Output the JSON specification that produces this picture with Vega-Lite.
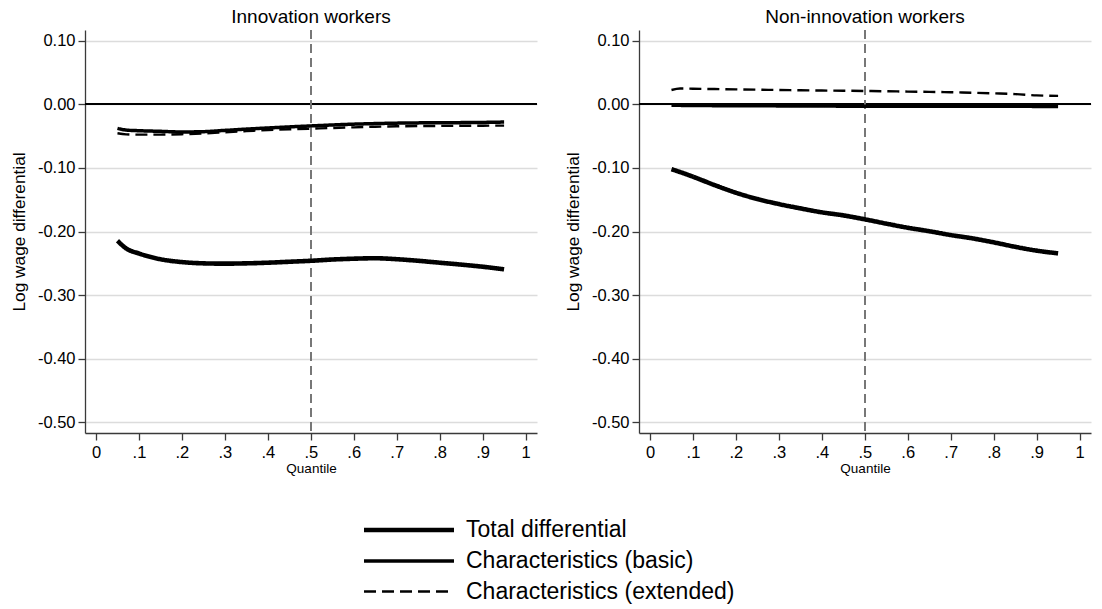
{
  "$schema": "https://vega.github.io/schema/vega-lite/v6.json",
  "background": "white",
  "padding": {"left": 10, "top": 8, "right": 0, "bottom": 0},
  "config": {
    "font": "Liberation Sans",
    "view": {"stroke": null},
    "axis": {"labelFont": "Liberation Sans", "titleFont": "Liberation Sans", "labelColor": "black", "titleColor": "black", "titleFontWeight": "normal", "domainColor": "#3a3a3a", "tickColor": "#3a3a3a", "domainWidth": 1.3, "tickWidth": 1.3},
    "title": {"font": "Liberation Sans", "fontWeight": "normal", "fontSize": 19, "color": "black", "offset": 2},
    "legend": {"labelFont": "Liberation Sans"}
  },
  "datasets": {
    "curves": [
      {"panel": "Innovation workers", "series": "Total differential", "q": 0.05, "v": -0.2145},
      {"panel": "Innovation workers", "series": "Total differential", "q": 0.07, "v": -0.2265},
      {"panel": "Innovation workers", "series": "Total differential", "q": 0.10, "v": -0.2345},
      {"panel": "Innovation workers", "series": "Total differential", "q": 0.15, "v": -0.2435},
      {"panel": "Innovation workers", "series": "Total differential", "q": 0.20, "v": -0.2480},
      {"panel": "Innovation workers", "series": "Total differential", "q": 0.25, "v": -0.2500},
      {"panel": "Innovation workers", "series": "Total differential", "q": 0.30, "v": -0.2505},
      {"panel": "Innovation workers", "series": "Total differential", "q": 0.35, "v": -0.2500},
      {"panel": "Innovation workers", "series": "Total differential", "q": 0.40, "v": -0.2490},
      {"panel": "Innovation workers", "series": "Total differential", "q": 0.45, "v": -0.2475},
      {"panel": "Innovation workers", "series": "Total differential", "q": 0.50, "v": -0.2460},
      {"panel": "Innovation workers", "series": "Total differential", "q": 0.55, "v": -0.2440},
      {"panel": "Innovation workers", "series": "Total differential", "q": 0.60, "v": -0.2427},
      {"panel": "Innovation workers", "series": "Total differential", "q": 0.65, "v": -0.2420},
      {"panel": "Innovation workers", "series": "Total differential", "q": 0.70, "v": -0.2435},
      {"panel": "Innovation workers", "series": "Total differential", "q": 0.75, "v": -0.2460},
      {"panel": "Innovation workers", "series": "Total differential", "q": 0.80, "v": -0.2490},
      {"panel": "Innovation workers", "series": "Total differential", "q": 0.85, "v": -0.2520},
      {"panel": "Innovation workers", "series": "Total differential", "q": 0.90, "v": -0.2553},
      {"panel": "Innovation workers", "series": "Total differential", "q": 0.95, "v": -0.2594},
      {"panel": "Innovation workers", "series": "Characteristics (basic)", "q": 0.05, "v": -0.0378},
      {"panel": "Innovation workers", "series": "Characteristics (basic)", "q": 0.07, "v": -0.0405},
      {"panel": "Innovation workers", "series": "Characteristics (basic)", "q": 0.10, "v": -0.0415},
      {"panel": "Innovation workers", "series": "Characteristics (basic)", "q": 0.15, "v": -0.0425},
      {"panel": "Innovation workers", "series": "Characteristics (basic)", "q": 0.20, "v": -0.0435},
      {"panel": "Innovation workers", "series": "Characteristics (basic)", "q": 0.25, "v": -0.0430},
      {"panel": "Innovation workers", "series": "Characteristics (basic)", "q": 0.30, "v": -0.0410},
      {"panel": "Innovation workers", "series": "Characteristics (basic)", "q": 0.35, "v": -0.0390},
      {"panel": "Innovation workers", "series": "Characteristics (basic)", "q": 0.40, "v": -0.0372},
      {"panel": "Innovation workers", "series": "Characteristics (basic)", "q": 0.45, "v": -0.0355},
      {"panel": "Innovation workers", "series": "Characteristics (basic)", "q": 0.50, "v": -0.0340},
      {"panel": "Innovation workers", "series": "Characteristics (basic)", "q": 0.55, "v": -0.0325},
      {"panel": "Innovation workers", "series": "Characteristics (basic)", "q": 0.60, "v": -0.0312},
      {"panel": "Innovation workers", "series": "Characteristics (basic)", "q": 0.65, "v": -0.0303},
      {"panel": "Innovation workers", "series": "Characteristics (basic)", "q": 0.70, "v": -0.0296},
      {"panel": "Innovation workers", "series": "Characteristics (basic)", "q": 0.75, "v": -0.0292},
      {"panel": "Innovation workers", "series": "Characteristics (basic)", "q": 0.80, "v": -0.0290},
      {"panel": "Innovation workers", "series": "Characteristics (basic)", "q": 0.85, "v": -0.0288},
      {"panel": "Innovation workers", "series": "Characteristics (basic)", "q": 0.90, "v": -0.0285},
      {"panel": "Innovation workers", "series": "Characteristics (basic)", "q": 0.95, "v": -0.0279},
      {"panel": "Innovation workers", "series": "Characteristics (extended)", "q": 0.05, "v": -0.0456},
      {"panel": "Innovation workers", "series": "Characteristics (extended)", "q": 0.07, "v": -0.0472},
      {"panel": "Innovation workers", "series": "Characteristics (extended)", "q": 0.10, "v": -0.0477},
      {"panel": "Innovation workers", "series": "Characteristics (extended)", "q": 0.15, "v": -0.0476},
      {"panel": "Innovation workers", "series": "Characteristics (extended)", "q": 0.20, "v": -0.0470},
      {"panel": "Innovation workers", "series": "Characteristics (extended)", "q": 0.25, "v": -0.0458},
      {"panel": "Innovation workers", "series": "Characteristics (extended)", "q": 0.30, "v": -0.0440},
      {"panel": "Innovation workers", "series": "Characteristics (extended)", "q": 0.35, "v": -0.0422},
      {"panel": "Innovation workers", "series": "Characteristics (extended)", "q": 0.40, "v": -0.0405},
      {"panel": "Innovation workers", "series": "Characteristics (extended)", "q": 0.45, "v": -0.0393},
      {"panel": "Innovation workers", "series": "Characteristics (extended)", "q": 0.50, "v": -0.0383},
      {"panel": "Innovation workers", "series": "Characteristics (extended)", "q": 0.55, "v": -0.0372},
      {"panel": "Innovation workers", "series": "Characteristics (extended)", "q": 0.60, "v": -0.0362},
      {"panel": "Innovation workers", "series": "Characteristics (extended)", "q": 0.65, "v": -0.0353},
      {"panel": "Innovation workers", "series": "Characteristics (extended)", "q": 0.70, "v": -0.0346},
      {"panel": "Innovation workers", "series": "Characteristics (extended)", "q": 0.75, "v": -0.0342},
      {"panel": "Innovation workers", "series": "Characteristics (extended)", "q": 0.80, "v": -0.0340},
      {"panel": "Innovation workers", "series": "Characteristics (extended)", "q": 0.85, "v": -0.0338},
      {"panel": "Innovation workers", "series": "Characteristics (extended)", "q": 0.90, "v": -0.0336},
      {"panel": "Innovation workers", "series": "Characteristics (extended)", "q": 0.95, "v": -0.0335},
      {"panel": "Non-innovation workers", "series": "Total differential", "q": 0.05, "v": -0.1020},
      {"panel": "Non-innovation workers", "series": "Total differential", "q": 0.07, "v": -0.1065},
      {"panel": "Non-innovation workers", "series": "Total differential", "q": 0.10, "v": -0.1138},
      {"panel": "Non-innovation workers", "series": "Total differential", "q": 0.15, "v": -0.1269},
      {"panel": "Non-innovation workers", "series": "Total differential", "q": 0.20, "v": -0.1390},
      {"panel": "Non-innovation workers", "series": "Total differential", "q": 0.25, "v": -0.1489},
      {"panel": "Non-innovation workers", "series": "Total differential", "q": 0.30, "v": -0.1568},
      {"panel": "Non-innovation workers", "series": "Total differential", "q": 0.35, "v": -0.1636},
      {"panel": "Non-innovation workers", "series": "Total differential", "q": 0.40, "v": -0.1698},
      {"panel": "Non-innovation workers", "series": "Total differential", "q": 0.45, "v": -0.1746},
      {"panel": "Non-innovation workers", "series": "Total differential", "q": 0.50, "v": -0.1808},
      {"panel": "Non-innovation workers", "series": "Total differential", "q": 0.55, "v": -0.1876},
      {"panel": "Non-innovation workers", "series": "Total differential", "q": 0.60, "v": -0.1940},
      {"panel": "Non-innovation workers", "series": "Total differential", "q": 0.65, "v": -0.1995},
      {"panel": "Non-innovation workers", "series": "Total differential", "q": 0.70, "v": -0.2055},
      {"panel": "Non-innovation workers", "series": "Total differential", "q": 0.75, "v": -0.2107},
      {"panel": "Non-innovation workers", "series": "Total differential", "q": 0.80, "v": -0.2170},
      {"panel": "Non-innovation workers", "series": "Total differential", "q": 0.85, "v": -0.2240},
      {"panel": "Non-innovation workers", "series": "Total differential", "q": 0.90, "v": -0.2300},
      {"panel": "Non-innovation workers", "series": "Total differential", "q": 0.95, "v": -0.2343},
      {"panel": "Non-innovation workers", "series": "Characteristics (basic)", "q": 0.05, "v": -0.0015},
      {"panel": "Non-innovation workers", "series": "Characteristics (basic)", "q": 0.10, "v": -0.0019},
      {"panel": "Non-innovation workers", "series": "Characteristics (basic)", "q": 0.15, "v": -0.0021},
      {"panel": "Non-innovation workers", "series": "Characteristics (basic)", "q": 0.20, "v": -0.0022},
      {"panel": "Non-innovation workers", "series": "Characteristics (basic)", "q": 0.25, "v": -0.0023},
      {"panel": "Non-innovation workers", "series": "Characteristics (basic)", "q": 0.30, "v": -0.0025},
      {"panel": "Non-innovation workers", "series": "Characteristics (basic)", "q": 0.35, "v": -0.0027},
      {"panel": "Non-innovation workers", "series": "Characteristics (basic)", "q": 0.40, "v": -0.0028},
      {"panel": "Non-innovation workers", "series": "Characteristics (basic)", "q": 0.45, "v": -0.0029},
      {"panel": "Non-innovation workers", "series": "Characteristics (basic)", "q": 0.50, "v": -0.0030},
      {"panel": "Non-innovation workers", "series": "Characteristics (basic)", "q": 0.55, "v": -0.0031},
      {"panel": "Non-innovation workers", "series": "Characteristics (basic)", "q": 0.60, "v": -0.0030},
      {"panel": "Non-innovation workers", "series": "Characteristics (basic)", "q": 0.65, "v": -0.0030},
      {"panel": "Non-innovation workers", "series": "Characteristics (basic)", "q": 0.70, "v": -0.0030},
      {"panel": "Non-innovation workers", "series": "Characteristics (basic)", "q": 0.75, "v": -0.0030},
      {"panel": "Non-innovation workers", "series": "Characteristics (basic)", "q": 0.80, "v": -0.0030},
      {"panel": "Non-innovation workers", "series": "Characteristics (basic)", "q": 0.85, "v": -0.0031},
      {"panel": "Non-innovation workers", "series": "Characteristics (basic)", "q": 0.90, "v": -0.0033},
      {"panel": "Non-innovation workers", "series": "Characteristics (basic)", "q": 0.95, "v": -0.0035},
      {"panel": "Non-innovation workers", "series": "Characteristics (extended)", "q": 0.05, "v": 0.0225},
      {"panel": "Non-innovation workers", "series": "Characteristics (extended)", "q": 0.07, "v": 0.0248},
      {"panel": "Non-innovation workers", "series": "Characteristics (extended)", "q": 0.10, "v": 0.0245},
      {"panel": "Non-innovation workers", "series": "Characteristics (extended)", "q": 0.15, "v": 0.0240},
      {"panel": "Non-innovation workers", "series": "Characteristics (extended)", "q": 0.20, "v": 0.0235},
      {"panel": "Non-innovation workers", "series": "Characteristics (extended)", "q": 0.25, "v": 0.0230},
      {"panel": "Non-innovation workers", "series": "Characteristics (extended)", "q": 0.30, "v": 0.0225},
      {"panel": "Non-innovation workers", "series": "Characteristics (extended)", "q": 0.35, "v": 0.0220},
      {"panel": "Non-innovation workers", "series": "Characteristics (extended)", "q": 0.40, "v": 0.0216},
      {"panel": "Non-innovation workers", "series": "Characteristics (extended)", "q": 0.45, "v": 0.0213},
      {"panel": "Non-innovation workers", "series": "Characteristics (extended)", "q": 0.50, "v": 0.0210},
      {"panel": "Non-innovation workers", "series": "Characteristics (extended)", "q": 0.55, "v": 0.0205},
      {"panel": "Non-innovation workers", "series": "Characteristics (extended)", "q": 0.60, "v": 0.0200},
      {"panel": "Non-innovation workers", "series": "Characteristics (extended)", "q": 0.65, "v": 0.0196},
      {"panel": "Non-innovation workers", "series": "Characteristics (extended)", "q": 0.70, "v": 0.0190},
      {"panel": "Non-innovation workers", "series": "Characteristics (extended)", "q": 0.75, "v": 0.0182},
      {"panel": "Non-innovation workers", "series": "Characteristics (extended)", "q": 0.80, "v": 0.0172},
      {"panel": "Non-innovation workers", "series": "Characteristics (extended)", "q": 0.85, "v": 0.0160},
      {"panel": "Non-innovation workers", "series": "Characteristics (extended)", "q": 0.90, "v": 0.0140},
      {"panel": "Non-innovation workers", "series": "Characteristics (extended)", "q": 0.95, "v": 0.0132}
    ]
  },
  "spacing": 26,
  "resolve": {"scale": {"strokeDash": "shared", "strokeWidth": "shared"}, "legend": {"strokeDash": "shared", "strokeWidth": "shared"}},
  "hconcat": [
    {
      "width": 452, "height": 403,
      "title": {"text": "Innovation workers"},
      "data": {"name": "curves"},
      "transform": [{"filter": "datum.panel == 'Innovation workers'"}],
      "encoding": {
        "x": {"field": "q", "type": "quantitative", "title": "Quantile",
          "scale": {"domain": [-0.0256, 1.0266], "nice": false, "zero": false},
          "axis": {"values": [0, 0.1, 0.2, 0.3, 0.4, 0.5, 0.6, 0.7, 0.8, 0.9, 1], "grid": false, "labelExpr": "datum.value == 0 ? '0' : datum.value == 1 ? '1' : replace(format(datum.value, '.1f'), '0.', '.')", "labelFontSize": 16.5, "tickSize": 7, "labelPadding": 4, "titleFontSize": 13.5, "titlePadding": 1, "labelFlush": false}},
        "y": {"field": "v", "type": "quantitative", "title": "Log wage differential",
          "scale": {"domain": [-0.5167, 0.1168], "nice": false, "zero": false},
          "axis": {"values": [-0.5, -0.4, -0.3, -0.2, -0.1, 0, 0.1], "labelExpr": "replace(format(datum.value, '.2f'), '\u2212', '-')", "grid": true, "gridColor": "#dcdcdc", "gridWidth": 1.5, "labelFontSize": 16.5, "tickSize": 7, "labelPadding": 3, "titleFontSize": 17.3, "titlePadding": 9, "labelFlush": false}}
      },
      "layer": [
        {"mark": {"type": "rule", "color": "black", "strokeWidth": 1.2}, "encoding": {"x": {"value": 0}, "x2": {"value": 452}, "y": {"datum": 0}}},
        {"mark": {"type": "rule", "color": "#777777", "strokeWidth": 1.5, "strokeDash": [9, 5]}, "encoding": {"x": {"datum": 0.5}, "y": {"value": 0}, "y2": {"value": 403}}},
        {"mark": {"type": "line", "color": "black", "interpolate": "monotone"},
          "encoding": {
            "detail": {"field": "series"},
            "strokeDash": {"field": "series", "type": "nominal", "scale": {"domain": ["Total differential", "Characteristics (basic)", "Characteristics (extended)"], "range": [[1, 0], [1, 0], [12, 6]]},
              "legend": {"orient": "none", "legendX": 310, "legendY": 486, "title": null, "direction": "vertical", "symbolType": "M-4,0H4", "symbolSize": 506, "symbolStrokeColor": "black", "labelFontSize": 23, "labelColor": "black", "rowPadding": 6, "labelOffset": 43, "labelLimit": 500}},
            "strokeWidth": {"field": "series", "type": "nominal", "scale": {"domain": ["Total differential", "Characteristics (basic)", "Characteristics (extended)"], "range": [4.6, 2.4, 2.4]},
              "legend": {"orient": "none", "legendX": 310, "legendY": 486, "title": null, "direction": "vertical", "symbolType": "M-4,0H4", "symbolSize": 506, "symbolStrokeColor": "black", "labelFontSize": 23, "labelColor": "black", "rowPadding": 6, "labelOffset": 43, "labelLimit": 500}}
          }}
      ]
    },
    {
      "width": 452, "height": 403,
      "title": {"text": "Non-innovation workers"},
      "data": {"name": "curves"},
      "transform": [{"filter": "datum.panel == 'Non-innovation workers'"}],
      "encoding": {
        "x": {"field": "q", "type": "quantitative", "title": "Quantile",
          "scale": {"domain": [-0.0256, 1.0266], "nice": false, "zero": false},
          "axis": {"values": [0, 0.1, 0.2, 0.3, 0.4, 0.5, 0.6, 0.7, 0.8, 0.9, 1], "grid": false, "labelExpr": "datum.value == 0 ? '0' : datum.value == 1 ? '1' : replace(format(datum.value, '.1f'), '0.', '.')", "labelFontSize": 16.5, "tickSize": 7, "labelPadding": 4, "titleFontSize": 13.5, "titlePadding": 1, "labelFlush": false}},
        "y": {"field": "v", "type": "quantitative", "title": "Log wage differential",
          "scale": {"domain": [-0.5167, 0.1168], "nice": false, "zero": false},
          "axis": {"values": [-0.5, -0.4, -0.3, -0.2, -0.1, 0, 0.1], "labelExpr": "replace(format(datum.value, '.2f'), '\u2212', '-')", "grid": true, "gridColor": "#dcdcdc", "gridWidth": 1.5, "labelFontSize": 16.5, "tickSize": 7, "labelPadding": 3, "titleFontSize": 17.3, "titlePadding": 9, "labelFlush": false}}
      },
      "layer": [
        {"mark": {"type": "rule", "color": "black", "strokeWidth": 1.2}, "encoding": {"x": {"value": 0}, "x2": {"value": 452}, "y": {"datum": 0}}},
        {"mark": {"type": "rule", "color": "#777777", "strokeWidth": 1.5, "strokeDash": [9, 5]}, "encoding": {"x": {"datum": 0.5}, "y": {"value": 0}, "y2": {"value": 403}}},
        {"mark": {"type": "line", "color": "black", "interpolate": "monotone"},
          "encoding": {
            "detail": {"field": "series"},
            "strokeDash": {"field": "series", "type": "nominal", "scale": {"domain": ["Total differential", "Characteristics (basic)", "Characteristics (extended)"], "range": [[1, 0], [1, 0], [12, 6]]},
              "legend": {"orient": "none", "legendX": 310, "legendY": 486, "title": null, "direction": "vertical", "symbolType": "M-4,0H4", "symbolSize": 506, "symbolStrokeColor": "black", "labelFontSize": 23, "labelColor": "black", "rowPadding": 6, "labelOffset": 43, "labelLimit": 500}},
            "strokeWidth": {"field": "series", "type": "nominal", "scale": {"domain": ["Total differential", "Characteristics (basic)", "Characteristics (extended)"], "range": [4.6, 2.4, 2.4]},
              "legend": {"orient": "none", "legendX": 310, "legendY": 486, "title": null, "direction": "vertical", "symbolType": "M-4,0H4", "symbolSize": 506, "symbolStrokeColor": "black", "labelFontSize": 23, "labelColor": "black", "rowPadding": 6, "labelOffset": 43, "labelLimit": 500}}
          }}
      ]
    }
  ]
}
